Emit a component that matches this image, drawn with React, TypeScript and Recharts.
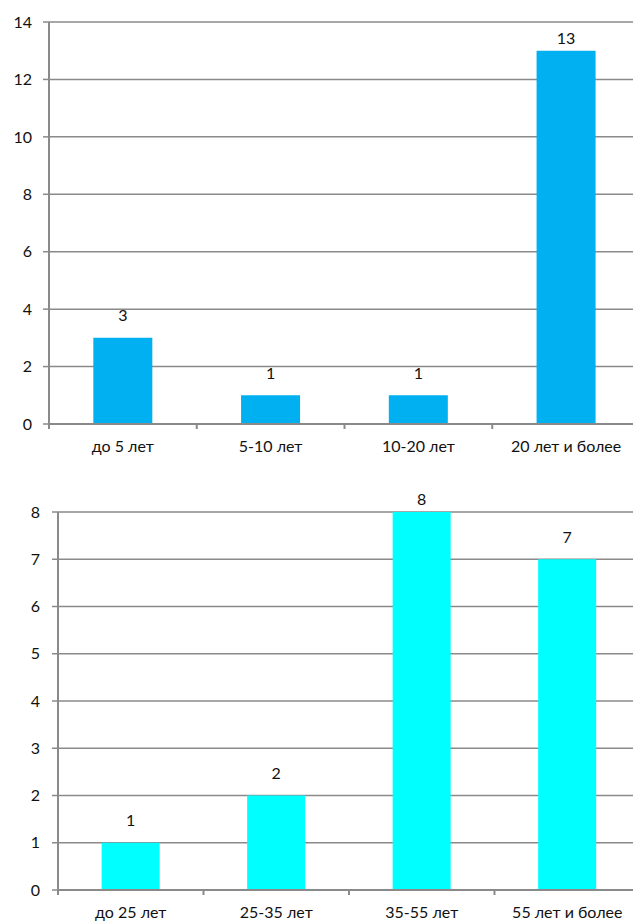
import { BarChart, Bar, XAxis, YAxis, CartesianGrid, LabelList } from 'recharts'

// стаж работы
const stageCats = ['до 5 лет', '5-10 лет', '10-20 лет', '20 лет и более']
const stageVals = [3, 1, 1, 13]
const stageTicks = [0, 2, 4, 6, 8, 10, 12, 14]

// возраст
const ageCats = ['до 25 лет', '25-35 лет', '35-55 лет', '55 лет и более']
const ageVals = [1, 2, 8, 7]
const ageTicks = [0, 1, 2, 3, 4, 5, 6, 7, 8]

const FONT = 'Lato, "Noto Sans", sans-serif'
const GRID = '#8a8a8a'
const FS = 16

function CatTick({ x, y, payload, band }: any) {
  const bx = x - band / 2
  return (
    <g>
      <line x1={bx} y1={y} x2={bx} y2={y + 5} stroke={GRID} strokeWidth={2} />
      <text x={x} y={y + 22} dy="0.35em" textAnchor="middle" fontSize={FS} fontFamily={FONT} fill="#111">
        {payload.value}
      </text>
    </g>
  )
}

function ValueLabel({ x, y, width, value, minY }: any) {
  const cy = Math.max(y - 22, minY)
  return (
    <text x={x + width / 2} y={cy} dy="0.35em" textAnchor="middle" fontSize={FS} fontFamily={FONT} fill="#111">
      {value}
    </text>
  )
}

interface ChartProps {
  cats: string[]
  vals: number[]
  ticks: number[]
  color: string
  top: number
  left: number
  plotTop: number
  bottom: number
  minLabelY: number
  tickMargin: number
}

function Chart({ cats, vals, ticks, color, top, left, plotTop, bottom, minLabelY, tickMargin }: ChartProps) {
  const data = cats.map((name, i) => ({ name, value: vals[i] }))
  const width = 640
  const band = (width - left) / cats.length
  return (
    <div style={{ position: 'absolute', left: 0, top }}>
      <BarChart width={width} height={460} data={data} margin={{ top: plotTop, right: 0, left: 0, bottom }} barCategoryGap="30%">
        <CartesianGrid vertical={false} stroke={GRID} strokeWidth={1.5} />
        <XAxis
          dataKey="name"
          height={30}
          axisLine={{ stroke: GRID, strokeWidth: 2 }}
          tickLine={false}
          tickSize={0}
          tickMargin={0}
          interval={0}
          tick={<CatTick band={band} />}
        />
        <YAxis
          width={left}
          domain={[ticks[0], ticks[ticks.length - 1]]}
          ticks={ticks}
          interval={0}
          axisLine={{ stroke: GRID, strokeWidth: 2 }}
          tickLine={{ stroke: GRID, strokeWidth: 1.5 }}
          tickSize={6}
          tickMargin={tickMargin}
          tick={{ fontSize: FS, fontFamily: FONT, fill: '#111' }}
        />
        <Bar dataKey="value" fill={color} isAnimationActive={false}>
          <LabelList dataKey="value" content={<ValueLabel minY={minLabelY} />} />
        </Bar>
      </BarChart>
    </div>
  )
}

export default function App() {
  return (
    <div style={{ position: 'absolute', left: 0, top: 0, width: 633, height: 923, overflow: 'hidden', background: '#fff' }}>
      <Chart cats={stageCats} vals={stageVals} ticks={stageTicks} color="#00b0f0"
        top={0} left={49} plotTop={22} bottom={6} minLabelY={38} tickMargin={11} />
      <Chart cats={ageCats} vals={ageVals} ticks={ageTicks} color="#00ffff"
        top={470} left={58} plotTop={42} bottom={10} minLabelY={29} tickMargin={12} />
    </div>
  )
}
